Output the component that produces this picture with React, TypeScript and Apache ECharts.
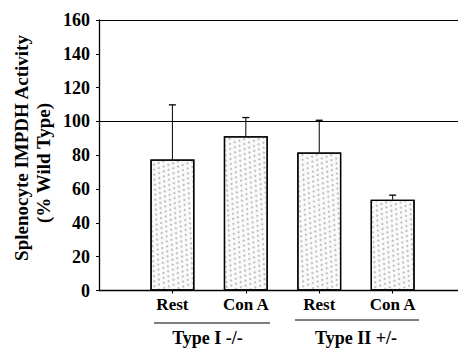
import React, { useEffect, useRef } from "react";
import * as echarts from "echarts";

const categories = ["Rest", "Con A", "Rest", "Con A"];
const positions = [1, 2, 3, 4];
const means = [77.5, 91.2, 81.6, 53.7];
const errors = [32.3, 11.1, 19.1, 2.7];
const groups = ["Type I -/-", "Type II +/-"];
const refLines = [100, 160];
const yTicks = { min: 0, max: 160, interval: 20 };

const SERIF = "Liberation Serif, Times New Roman, DejaVu Serif, serif";

export default function App() {
  const ref = useRef<HTMLDivElement>(null);
  useEffect(() => {
    if (!ref.current) return;
    const chart = echarts.init(ref.current, undefined, { renderer: "svg" });
    const barData = positions.map((p, i) => [p, means[i]]);
    const errData = positions.map((p, i) => [p, means[i], errors[i]]);
    const textStyle = (size: number) => ({
      fontFamily: SERIF,
      fontWeight: "bold",
      fontSize: size,
      fill: "#000",
      align: "center",
      verticalAlign: "middle",
    });
    chart.setOption({
      animation: false,
      backgroundColor: "#fff",
      textStyle: { fontFamily: SERIF },
      grid: { left: 99, right: 0, top: 20, bottom: 57.5, containLabel: false },
      xAxis: {
        type: "value",
        min: 0,
        max: 4.89,
        interval: 1,
        axisLine: { show: true, lineStyle: { color: "#000", width: 1.3 } },
        axisTick: { show: true, customValues: positions, length: 3, lineStyle: { color: "#000" } },
        axisLabel: {
          customValues: positions,
          formatter: (v: number) => categories[Math.round(v) - 1] ?? "",
          fontFamily: SERIF,
          fontWeight: "bold",
          fontSize: 17,
          color: "#000",
          margin: 5,
        },
        splitLine: { show: false },
      },
      yAxis: {
        type: "value",
        min: yTicks.min,
        max: yTicks.max,
        interval: yTicks.interval,
        axisLine: { show: true, lineStyle: { color: "#000", width: 1.3 } },
        axisTick: { show: true, length: 3, lineStyle: { color: "#000" } },
        axisLabel: {
          fontFamily: SERIF,
          fontWeight: "bold",
          fontSize: 18,
          color: "#000",
          margin: 9,
        },
        splitLine: { show: false },
      },
      series: [
        {
          type: "bar",
          data: barData,
          barWidth: 44,
          itemStyle: {
            color: "#fafafa",
            borderColor: "#000",
            borderWidth: 1.3,
            decal: {
              symbol: "rect",
              symbolSize: 0.7,
              color: "#8a8a8a",
              dashArrayX: [[2, 4], [0, 3, 2, 1]],
              dashArrayY: [2, 2],
              rotation: 0.6,
            },
          },
          markLine: {
            silent: true,
            symbol: "none",
            label: { show: false },
            lineStyle: { color: "#000", width: 1.2, type: "solid" },
            data: refLines.map((v) => ({ yAxis: v })),
          },
          z: 2,
        },
        {
          type: "custom",
          data: errData,
          z: 3,
          renderItem: (params: any, api: any) => {
            const x = api.value(0);
            const m = api.value(1);
            const e = api.value(2);
            const p0 = api.coord([x, m]);
            const p1 = api.coord([x, m + e]);
            const hw = 3.5;
            return {
              type: "group",
              children: [
                {
                  type: "line",
                  shape: { x1: p0[0], y1: p0[1], x2: p1[0], y2: p1[1] },
                  style: { stroke: "#000", lineWidth: 1 },
                },
                {
                  type: "line",
                  shape: { x1: p1[0] - hw, y1: p1[1], x2: p1[0] + hw, y2: p1[1] },
                  style: { stroke: "#000", lineWidth: 1.3 },
                },
              ],
            };
          },
        },
      ],
      graphic: [
        {
          type: "text",
          x: 21,
          y: 148,
          rotation: Math.PI / 2,
          style: { text: "Splenocyte IMPDH Activity", ...textStyle(19) },
        },
        {
          type: "text",
          x: 43,
          y: 163,
          rotation: Math.PI / 2,
          style: { text: "(% Wild Type)", ...textStyle(19) },
        },
        {
          type: "line",
          shape: { x1: 154, y1: 323, x2: 270, y2: 323 },
          style: { stroke: "#000", lineWidth: 1 },
        },
        {
          type: "line",
          shape: { x1: 295, y1: 320, x2: 419, y2: 320 },
          style: { stroke: "#000", lineWidth: 1 },
        },
        {
          type: "text",
          x: 207.5,
          y: 338,
          style: { text: groups[0], ...textStyle(18) },
        },
        {
          type: "text",
          x: 356,
          y: 338,
          style: { text: groups[1], ...textStyle(18) },
        },
      ],
    });
    return () => chart.dispose();
  }, []);
  return (
    <div
      ref={ref}
      style={{ width: 458, height: 348, position: "absolute", left: 0, top: 0 }}
    />
  );
}
